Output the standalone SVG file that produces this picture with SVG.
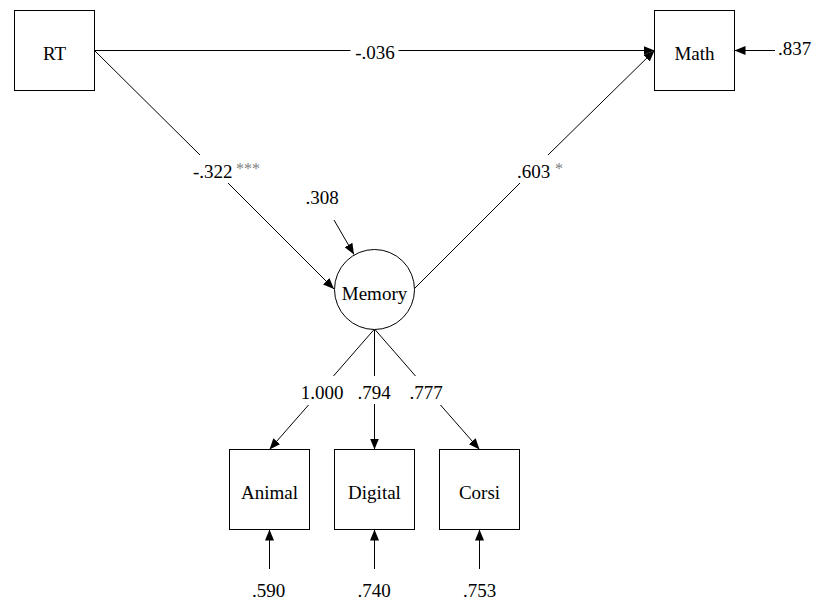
<svg xmlns="http://www.w3.org/2000/svg" width="824" height="614" viewBox="0 0 824 614">
<defs>
<marker id="ah" markerWidth="12" markerHeight="9" refX="11" refY="4.5" orient="auto" markerUnits="userSpaceOnUse">
<path d="M0,0 L11,4.5 L0,9 Z" fill="#000"/>
</marker>
</defs>
<style>
.box{fill:#fff;stroke:#000;stroke-width:1}
.ln{fill:none;stroke:#000;stroke-width:1}
text{font-family:'Times New Roman','Liberation Serif','DejaVu Serif',serif;font-size:19px;fill:#000}
.t{text-anchor:middle}
.st{font-size:16px;fill:#808080}
</style>
<rect width="824" height="614" fill="#fff"/>
<g id="connectors">
<line class="ln" x1="94.5" y1="50.5" x2="350.5" y2="50.5"/>
<line class="ln" x1="398.5" y1="50.5" x2="654.5" y2="50.5" marker-end="url(#ah)"/>
<line class="ln" x1="94.5" y1="50.5" x2="200" y2="155"/>
<line class="ln" x1="228" y1="183" x2="334" y2="289" marker-end="url(#ah)"/>
<line class="ln" x1="414" y1="289" x2="520" y2="183"/>
<line class="ln" x1="548" y1="155" x2="654.5" y2="50.5" marker-end="url(#ah)"/>
<line class="ln" x1="775" y1="50.5" x2="734.5" y2="50.5" marker-end="url(#ah)"/>
<line class="ln" x1="334" y1="220" x2="354" y2="254.5" marker-end="url(#ah)"/>
<line class="ln" x1="374.5" y1="329" x2="333.5" y2="376"/>
<line class="ln" x1="308.5" y1="405" x2="269.5" y2="449.5" marker-end="url(#ah)"/>
<line class="ln" x1="374.5" y1="329" x2="374.5" y2="376"/>
<line class="ln" x1="374.5" y1="404" x2="374.5" y2="449.5" marker-end="url(#ah)"/>
<line class="ln" x1="374.5" y1="329" x2="415.5" y2="376"/>
<line class="ln" x1="440.5" y1="405" x2="479.5" y2="449.5" marker-end="url(#ah)"/>
<line class="ln" x1="269.5" y1="569" x2="269.5" y2="529.5" marker-end="url(#ah)"/>
<line class="ln" x1="374.5" y1="569" x2="374.5" y2="529.5" marker-end="url(#ah)"/>
<line class="ln" x1="479.5" y1="569" x2="479.5" y2="529.5" marker-end="url(#ah)"/>
</g>
<g id="labels">
<text class="t" x="375" y="59">-.036</text>
<text x="193" y="178">-.322</text>
<text class="st" x="236" y="174">***</text>
<text x="517" y="178">.603</text>
<text class="st" x="555" y="174">*</text>
<text x="778" y="55">.837</text>
<text class="t" x="322" y="204">.308</text>
<text class="t" x="322" y="399">1.000</text>
<text class="t" x="374" y="399">.794</text>
<text class="t" x="426" y="399">.777</text>
<text class="t" x="268.5" y="597">.590</text>
<text class="t" x="374" y="597">.740</text>
<text class="t" x="479.5" y="597">.753</text>
</g>
<g id="RT"><rect class="box" x="14.5" y="10.5" width="80" height="80"/><text class="t" x="54.5" y="60">RT</text></g>
<g id="Math"><rect class="box" x="654.5" y="10.5" width="80" height="80"/><text class="t" x="694.5" y="60">Math</text></g>
<g id="Memory"><circle class="box" cx="374.5" cy="289.5" r="40"/><text class="t" x="374.5" y="300">Memory</text></g>
<g id="Animal"><rect class="box" x="229.5" y="449.5" width="80" height="80"/><text class="t" x="269.5" y="499">Animal</text></g>
<g id="Digital"><rect class="box" x="334.5" y="449.5" width="80" height="80"/><text class="t" x="374.5" y="499">Digital</text></g>
<g id="Corsi"><rect class="box" x="439.5" y="449.5" width="80" height="80"/><text class="t" x="479.5" y="499">Corsi</text></g>
</svg>
